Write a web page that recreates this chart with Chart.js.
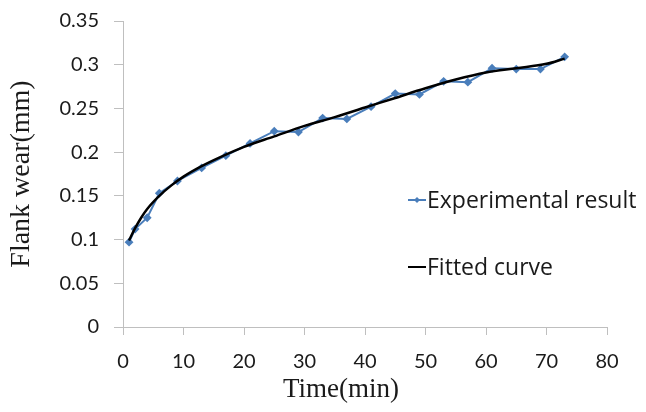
<!DOCTYPE html>
<html lang="en">
<head>
  <meta charset="UTF-8" />
  <title>Flank wear vs time</title>
  <script src="https://cdn.jsdelivr.net/npm/chart.js@4.4.0/dist/chart.umd.min.js"></script>
  <style>
    body { margin: 0; background: #fff; }
    #wrap { width: 646px; height: 412px; }
  </style>
</head>
<body>
  <div id="wrap"><canvas id="wearChart" width="646" height="412"></canvas></div>

  <script>
    // experimental measurements
    const expTime = [1, 2, 4, 6, 9, 13, 17, 21, 25, 29, 33, 37, 41, 45, 49, 53, 57, 61, 65, 69, 73];
    const expWear = [0.097, 0.112, 0.125, 0.153, 0.167, 0.182, 0.196, 0.21, 0.224, 0.223, 0.239, 0.238,
                     0.252, 0.267, 0.266, 0.281, 0.28, 0.296, 0.295, 0.295, 0.309];

    // fitted curve
    const fitTime = [1, 2, 3, 4, 6, 8, 10, 13, 16, 20, 25, 30, 35, 40, 45, 50, 55, 60, 65, 70, 73];
    const fitWear = [0.099, 0.113, 0.125, 0.135, 0.150, 0.162, 0.172, 0.184, 0.194, 0.206, 0.218, 0.230,
                     0.240, 0.251, 0.262, 0.273, 0.283, 0.291, 0.296, 0.301, 0.307];

    const xTickLabels = ['0', '10', '20', '30', '40', '50', '60', '70', '80'];
    const yTickLabels = ['0', '0.05', '0.1', '0.15', '0.2', '0.25', '0.3', '0.35'];

    const seriesNames = ['Experimental result', 'Fitted curve'];
    const xTitle = 'Time(min)';
    const yTitle = 'Flank wear(mm)';

    const toXY = (xs, ys) => xs.map((x, i) => ({ x: x, y: ys[i] }));

    // legend inside the plot and the x title (sits left of centre in the original)
    const extras = {
      id: 'extras',
      afterDraw(chart) {
        const ctx = chart.ctx;
        const rows = [200, 267];
        ctx.save();
        ctx.font = '23px "Open Sans", Lato, sans-serif';
        ctx.textBaseline = 'middle';
        chart.data.datasets.forEach((ds) => {
          const y = rows[ds.legendRow];
          ctx.strokeStyle = ds.borderColor;
          ctx.lineWidth = 2;
          ctx.beginPath();
          ctx.moveTo(408, y);
          ctx.lineTo(426, y);
          ctx.stroke();
          if (ds.pointRadius > 0) {
            ctx.fillStyle = ds.borderColor;
            ctx.beginPath();
            ctx.moveTo(417, y - 3);
            ctx.lineTo(420, y);
            ctx.lineTo(417, y + 3);
            ctx.lineTo(414, y);
            ctx.closePath();
            ctx.fill();
          }
          ctx.fillStyle = '#1a1a1a';
          ctx.fillText(ds.label, 427, y + 1);
        });

        ctx.font = '27px "Liberation Serif", "DejaVu Serif", serif';
        ctx.textAlign = 'center';
        ctx.fillStyle = '#1a1a1a';
        ctx.fillText(xTitle, 341, 390);
        ctx.restore();
      }
    };

    new Chart(document.getElementById('wearChart'), {
      type: 'line',
      data: {
        datasets: [
          {
            label: seriesNames[1],
            data: toXY(fitTime, fitWear),
            borderColor: '#000000',
            borderWidth: 2.5,
            pointRadius: 0,
            cubicInterpolationMode: 'monotone',
            order: 0,
            legendRow: 1
          },
          {
            label: seriesNames[0],
            data: toXY(expTime, expWear),
            borderColor: '#4a7ebb',
            backgroundColor: '#4a7ebb',
            borderWidth: 2,
            pointStyle: 'rectRot',
            pointRadius: 3,
            order: 1,
            legendRow: 0
          }
        ]
      },
      options: {
        responsive: false,
        animation: false,
        layout: { padding: { top: 21, right: 39, left: 0, bottom: 0 } },
        plugins: {
          legend: { display: false },
          tooltip: { enabled: false }
        },
        scales: {
          x: {
            type: 'linear',
            min: 0,
            max: 80,
            afterFit(scale) { scale.height = 85; scale.paddingLeft = 0; scale.paddingRight = 0; },
            grid: { drawOnChartArea: false, color: '#bfbfbf', tickLength: 8, tickColor: '#bfbfbf' },
            border: { color: '#bfbfbf', width: 1 },
            ticks: {
              stepSize: 10,
              padding: 15,
              color: '#1a1a1a',
              font: { family: 'Lato, "Open Sans", sans-serif', size: 20 },
              maxRotation: 0,
              callback: (v) => xTickLabels[Math.round(v / 10)]
            },
            title: { display: false }
          },
          y: {
            min: 0,
            max: 0.35,
            afterFit(scale) { scale.width = 123; scale.paddingTop = 0; scale.paddingBottom = 0; },
            grid: { drawOnChartArea: false, color: '#bfbfbf', tickLength: 9, tickColor: '#bfbfbf' },
            border: { color: '#bfbfbf', width: 1 },
            ticks: {
              stepSize: 0.05,
              padding: 15,
              color: '#1a1a1a',
              font: { family: 'Lato, "Open Sans", sans-serif', size: 20 },
              callback: (v) => yTickLabels[Math.round(v / 0.05)]
            },
            title: {
              display: true,
              text: yTitle,
              color: '#1a1a1a',
              font: { family: '"Liberation Serif", "DejaVu Serif", serif', size: 28 },
              padding: { top: 5, bottom: 0 }
            }
          }
        }
      },
      plugins: [extras]
    });
  </script>
</body>
</html>
